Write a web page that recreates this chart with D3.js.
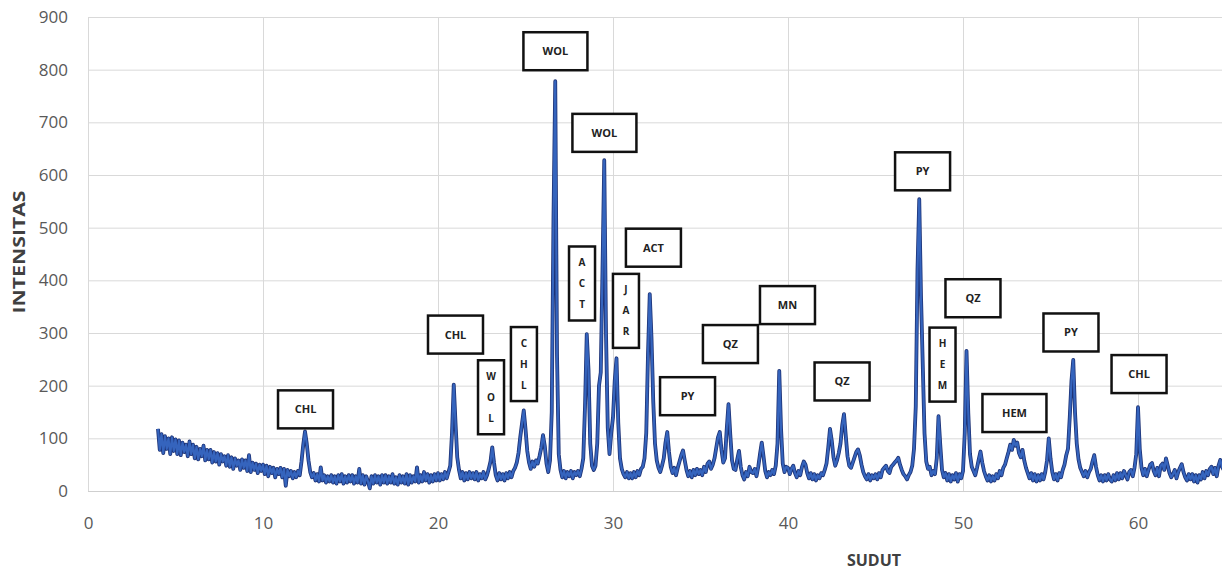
<!DOCTYPE html>
<html>
<head>
<meta charset="utf-8">
<script src="https://cdn.jsdelivr.net/npm/d3@7"></script>
<style>
    body { margin: 0; background: #fff; }
    svg { display: block; font-family: "Open Sans", "Liberation Sans", sans-serif; }
</style>
</head>
<body>
<main></main>
<script>
// scan starts at 4 deg, one reading every 0.1 deg
const angleStart = 4.0;
const angleStep = 0.1;

// intensities, one row per degree (4.0 ... 64.9), then 65.0
const counts = [
    118, 78, 108, 72, 104, 80, 100, 70, 102, 76,
    98, 70, 96, 68, 92, 74, 88, 66, 94, 70,
    88, 62, 84, 60, 80, 66, 86, 58, 78, 60,
    78, 54, 74, 56, 72, 50, 70, 56, 66, 48,
    68, 46, 64, 42, 62, 48, 58, 40, 60, 44,
    58, 38, 68, 36, 54, 40, 52, 34, 50, 38,
    50, 32, 48, 28, 46, 34, 44, 26, 42, 32,
    44, 26, 42, 10, 40, 28, 38, 24, 36, 26,
    38, 30, 56, 88, 113, 90, 58, 36, 26, 34,
    20, 32, 18, 45, 20, 30, 16, 28, 18, 30,
    16, 28, 14, 30, 18, 32, 14, 28, 16, 30,
    18, 30, 14, 28, 16, 42, 14, 30, 12, 28,
    18, 5, 28, 14, 30, 16, 28, 12, 30, 16,
    30, 14, 28, 16, 32, 14, 26, 12, 30, 16,
    28, 14, 32, 12, 30, 16, 28, 18, 45, 16,
    30, 18, 36, 20, 32, 16, 30, 18, 32, 20,
    34, 20, 32, 22, 36, 24, 36, 48, 110, 202,
    130, 64, 40, 24, 36, 20, 34, 22, 36, 24,
    34, 22, 36, 20, 32, 24, 36, 22, 30, 42,
    56, 83, 54, 30, 20, 34, 22, 32, 20, 34,
    24, 36, 26, 38, 44, 54, 72, 102, 128, 153,
    118, 76, 54, 42, 56, 46, 58, 52, 66, 82,
    106, 86, 52, 36, 58, 150, 520, 778, 260, 70,
    40, 26, 38, 24, 36, 28, 38, 24, 36, 30,
    38, 28, 42, 62, 160, 298, 230, 90, 48, 40,
    48, 90, 200, 225, 420, 628, 300, 120, 70, 110,
    140, 210, 252, 130, 62, 42, 32, 26, 36, 24,
    34, 24, 36, 26, 38, 30, 42, 46, 62, 110,
    260, 374, 290, 170, 90, 58, 44, 36, 48, 62,
    92, 112, 74, 46, 34, 44, 30, 44, 56, 68,
    77, 58, 40, 28, 38, 26, 40, 30, 42, 32,
    40, 30, 46, 36, 52, 56, 42, 50, 62, 82,
    102, 112, 78, 54, 62, 118, 165, 108, 58, 42,
    40, 60, 76, 46, 30, 22, 36, 28, 46, 36,
    34, 42, 28, 46, 70, 92, 66, 38, 26, 36,
    30, 40, 32, 48, 90, 228, 120, 52, 36, 46,
    44, 32, 42, 48, 34, 26, 38, 30, 46, 56,
    50, 34, 24, 34, 22, 32, 20, 30, 24, 34,
    30, 40, 52, 82, 118, 96, 64, 48, 58, 72,
    90, 125, 146, 105, 66, 48, 44, 54, 64, 74,
    79, 68, 50, 36, 28, 22, 32, 20, 30, 24,
    32, 22, 34, 26, 40, 44, 48, 38, 34, 46,
    50, 54, 58, 63, 50, 40, 32, 28, 22, 30,
    36, 48, 80, 160, 420, 554, 370, 240, 110, 56,
    42, 46, 30, 38, 32, 62, 142, 88, 40, 26,
    34, 20, 32, 18, 30, 22, 34, 18, 32, 24,
    38, 110, 266, 150, 70, 46, 38, 30, 44, 60,
    75, 54, 38, 28, 20, 30, 18, 28, 20, 32,
    24, 38, 30, 44, 50, 62, 74, 88, 78, 97,
    86, 92, 72, 64, 78, 58, 44, 34, 24, 34,
    20, 32, 18, 30, 20, 32, 22, 36, 58, 100,
    62, 36, 22, 32, 20, 34, 26, 40, 50, 68,
    80, 140, 210, 249, 150, 90, 60, 44, 36, 28,
    38, 26, 36, 42, 56, 68, 46, 30, 20, 30,
    18, 30, 20, 32, 22, 18, 30, 20, 34, 22,
    34, 24, 38, 30, 22, 36, 40, 28, 44, 70,
    159, 80, 44, 30, 42, 28, 40, 50, 53, 38,
    30, 44, 28, 48, 52, 40, 62, 48, 34, 26,
    32, 40, 24, 36, 44, 51, 36, 26, 20, 32,
    22, 32, 18, 30, 16, 30, 22, 36, 24, 38,
    30, 42, 46, 32, 44, 28, 48, 59, 46, 40,
    52
];

const xTicks = [0, 10, 20, 30, 40, 50, 60];
const yTicks = [0, 100, 200, 300, 400, 500, 600, 700, 800, 900];

// mineral tags: text, angle of the box centre, intensity of the box centre
const labelText = ["CHL", "CHL", "WOL", "CHL", "WOL", "ACT", "WOL", "JAR", "ACT", "PY",
                   "QZ", "MN", "QZ", "PY", "HEM", "QZ", "HEM", "PY", "CHL"];
const labelAngle = [12.43, 21.0, 23.03, 24.91, 26.71, 28.23, 29.51, 30.74, 32.31, 34.26,
                    36.71, 39.97, 43.09, 47.69, 48.83, 50.57, 52.94, 56.17, 60.06];
const labelLevel = [155, 297, 178, 241, 835, 394, 680, 342, 462, 180,
                    279, 353, 208, 607, 240, 366, 148, 301, 222];
const labelStacked = [false, false, true, true, false, true, false, true, false, false,
                      false, false, false, false, true, false, false, false, false];

const svgSize = { width: 1222, height: 572 };
const plot = { left: 88, right: 1225.5, top: 17, bottom: 491 };

const createCanvas = () => {
    return d3.select("main")
            .append("svg")
            .attr("width", svgSize.width)
            .attr("height", svgSize.height);
};

const defineScales = () => {
    const xScale = d3.scaleLinear()
                    .domain([0, 65])
                    .range([plot.left, plot.right]);
    const yScale = d3.scaleLinear()
                    .domain([0, 900])
                    .range([plot.bottom, plot.top]);
    return { xScale, yScale };
};

const createAxes = (svg, scales) => {
    const yAxis = svg.append("g")
        .attr("id", "y-axis")
        .attr("transform", `translate(${plot.left},0)`)
        .call(d3.axisLeft(scales.yScale)
            .tickValues(yTicks)
            .tickSize(-(svgSize.width - plot.left))
            .tickPadding(20));

    const xAxis = svg.append("g")
        .attr("id", "x-axis")
        .attr("transform", `translate(0,${plot.bottom})`)
        .call(d3.axisBottom(scales.xScale)
            .tickValues(xTicks)
            .tickSize(-(plot.bottom - plot.top))
            .tickPadding(26));

    [xAxis, yAxis].forEach(g => {
        g.select(".domain").remove();
        g.selectAll(".tick line").attr("stroke", "#d9d9d9").attr("stroke-width", 1);
        g.selectAll(".tick text")
            .attr("fill", "#595959")
            .style("font-size", "17px")
            .style("font-family", "'Open Sans', sans-serif");
    });
    yAxis.raise();
    yAxis.selectAll(".tick").filter(d => d === 0).select("line").attr("stroke", "#cfcfcf");
};

const createTitles = (svg) => {
    svg.append("text")
        .attr("transform", "translate(25,252) rotate(-90)")
        .attr("text-anchor", "middle")
        .attr("textLength", 123)
        .attr("lengthAdjust", "spacingAndGlyphs")
        .style("font-size", "16px")
        .style("font-weight", "bold")
        .attr("fill", "#404040")
        .text("INTENSITAS");

    svg.append("text")
        .attr("x", 874)
        .attr("y", 566)
        .attr("text-anchor", "middle")
        .style("font-size", "16px")
        .style("font-weight", "bold")
        .attr("fill", "#404040")
        .text("SUDUT");
};

const createLine = (svg, scales) => {
    const line = d3.line()
        .x((d, i) => scales.xScale(angleStart + i * angleStep))
        .y(d => scales.yScale(d));

    svg.append("path")
        .datum(counts)
        .attr("fill", "none")
        .attr("stroke", "#1d3275")
        .attr("stroke-width", 3.8)
        .attr("stroke-linejoin", "round")
        .attr("d", line);

    svg.append("path")
        .datum(counts)
        .attr("fill", "none")
        .attr("stroke", "#3564bd")
        .attr("stroke-width", 2.2)
        .attr("stroke-linejoin", "round")
        .attr("d", line);
};

const createLabels = (svg, scales) => {
    labelText.forEach((txt, i) => {
        const cx = scales.xScale(labelAngle[i]);
        const cy = scales.yScale(labelLevel[i]);
        const stacked = labelStacked[i];
        const w = stacked ? 26 : (txt === "WOL" || txt === "HEM" ? 64 : 55);
        const h = stacked ? 74 : 38;
        const g = svg.append("g").attr("class", "tag");

        g.append("rect")
            .attr("x", cx - w / 2)
            .attr("y", cy - h / 2)
            .attr("width", w)
            .attr("height", h)
            .attr("fill", "#fff")
            .attr("stroke", "#111")
            .attr("stroke-width", 2.5);

        if (stacked) {
            txt.split("").forEach((ch, k) => {
                g.append("text")
                    .attr("x", cx)
                    .attr("y", cy + (k - 1) * 21)
                    .attr("dy", "0.36em")
                    .attr("text-anchor", "middle")
                    .style("font-size", "10px")
                    .style("font-weight", "bold")
                    .attr("fill", "#222")
                    .text(ch);
            });
        } else {
            g.append("text")
                .attr("x", cx)
                .attr("y", cy)
                .attr("dy", "0.36em")
                .attr("text-anchor", "middle")
                .style("font-size", "11px")
                .style("font-weight", "bold")
                .attr("fill", "#222")
                .text(txt);
        }
    });
};

const driver = () => {
    const svg = createCanvas();
    const scales = defineScales();
    createAxes(svg, scales);
    createTitles(svg);
    createLine(svg, scales);
    createLabels(svg, scales);
};

driver();
</script>
</body>
</html>
